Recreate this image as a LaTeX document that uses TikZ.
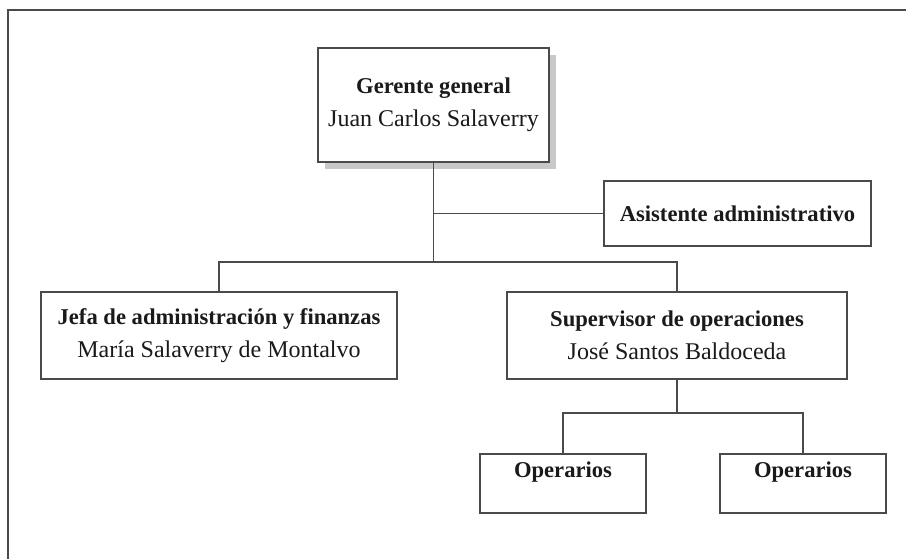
\documentclass[tikz,border=0pt]{standalone}
\usepackage{fontspec}
\setmainfont{Liberation Serif}
\usetikzlibrary{shadows}
\definecolor{linec}{HTML}{4A4A4A}
\definecolor{shadc}{HTML}{C8C8C8}
\definecolor{txtc}{HTML}{1A1A1A}
\newcommand{\orgB}[1]{{\fontsize{22.6}{33}\selectfont\bfseries #1}}
\begin{document}
\begin{tikzpicture}[x=1pt,y=-1pt,
  box/.style={draw=linec, line width=1.6pt, fill=white, inner sep=0pt, align=center, text=txtc, font=\fontsize{24}{33}\selectfont},
  opbox/.style={box, minimum width=166pt, minimum height=59pt, text height=12pt, text depth=25pt},
  conn/.style={draw=linec, line width=1.6pt}]
\useasboundingbox (0,0) rectangle (906,559);
\draw[conn] (8,559) -- (8,10) -- (906,10);

\node[box, minimum width=231pt, minimum height=114pt,
  drop shadow={shadow xshift=7pt, shadow yshift=-7pt, fill=shadc, opacity=1}]
  (ger) at (433.5,105) {\orgB{Gerente general}\\Juan Carlos Salaverry};
\node[box, minimum width=267pt, minimum height=65pt] (asis) at (737.5,213.5) {\orgB{Asistente administrativo}};
\node[box, minimum width=356pt, minimum height=87pt] (jefa) at (219,335.5) {\orgB{Jefa de administración y finanzas}\\María Salaverry de Montalvo};
\node[box, minimum width=340pt, minimum height=87pt] (sup) at (677,335.5) {\orgB{Supervisor de operaciones}\\José Santos Baldoceda};
\node[opbox] (op1) at (563,483.5) {\orgB{Operarios}};
\node[opbox] (op2) at (803,483.5) {\orgB{Operarios}};

\coordinate (bus1) at (433.5,262);
\coordinate (bus2) at (677,413);
\draw[conn] (ger.south) -- (bus1);
\draw[conn] (ger.south |- asis.west) -- (asis.west);
\draw[conn] (jefa.north) -- (jefa.north |- bus1) -- (sup.north |- bus1) -- (sup.north);
\draw[conn] (sup.south) -- (bus2);
\draw[conn] (op1.north) -- (op1.north |- bus2) -- (op2.north |- bus2) -- (op2.north);
\end{tikzpicture}
\end{document}
